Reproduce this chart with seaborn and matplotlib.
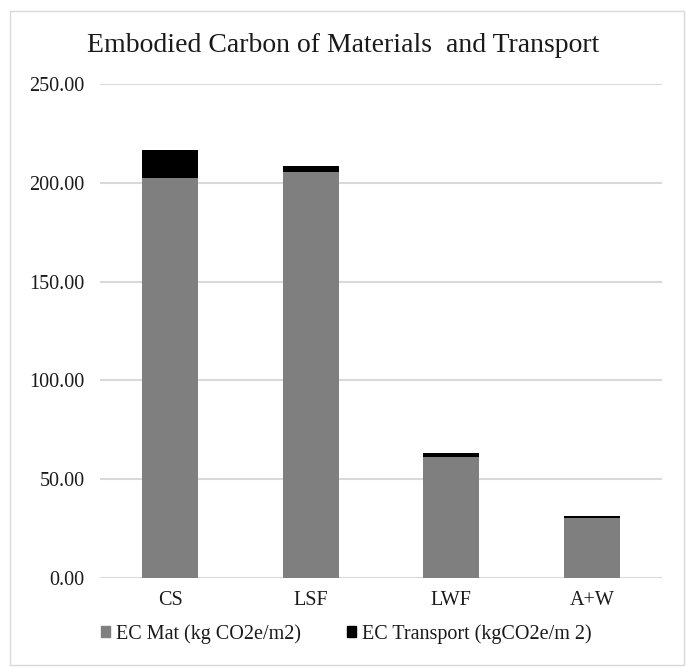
import matplotlib
matplotlib.use("Agg")
import matplotlib.pyplot as plt
import matplotlib.patches as mpatches
import seaborn as sns
import pandas as pd

# values (kg CO2e/m2)
systems = ["CS", "LSF", "LWF", "A+W"]
ec_mat = [202.5, 205.5, 61.0, 30.5]
ec_transport = [14.0, 3.0, 2.5, 0.9]

df = pd.DataFrame({"system": systems, "mat": ec_mat, "transport": ec_transport})
df["total"] = df["mat"] + df["transport"]

sns.set_theme(style="white")
plt.rcParams["font.family"] = ["Liberation Serif", "DejaVu Serif"]
txt = "#1a1a1a"

fig = plt.figure(figsize=(6.86, 6.67), dpi=100)
ax = fig.add_axes([0.1458, 0.1334, 0.8192, 0.7406])

# stacked bars: total in black underneath, material part in grey over it
sns.barplot(data=df, x="system", y="total", color="#000000", width=0.4,
            saturation=1, linewidth=0, ax=ax, zorder=3)
sns.barplot(data=df, x="system", y="mat", color="#7f7f7f", width=0.4,
            saturation=1, linewidth=0, ax=ax, zorder=3)

ax.set_ylim(0, 250)
ax.set_yticks([0, 50, 100, 150, 200, 250])
ax.set_yticklabels([f"{v:.2f}" for v in [0, 50, 100, 150, 200, 250]])
ax.yaxis.grid(True, color="#d9d9d9", linewidth=1.5, zorder=0)
ax.set_axisbelow(True)
for s in ax.spines.values():
    s.set_visible(False)
ax.tick_params(axis="both", length=0, labelsize=14.5, colors=txt)
ax.tick_params(axis="y", pad=11)
ax.tick_params(axis="x", pad=9)
ax.set_xlabel("")
ax.set_ylabel("")

fig.text(0.5, 0.932, "Embodied Carbon of Materials  and Transport",
         ha="center", va="center", fontsize=20, color=txt)

handles = [mpatches.Patch(color="#7f7f7f", label="EC Mat (kg CO2e/m2)"),
           mpatches.Patch(color="#000000", label="EC Transport (kgCO2e/m 2)")]
fig.legend(handles=handles, loc="center", bbox_to_anchor=(0.505, 0.05), ncol=2,
           frameon=False, fontsize=14.5, handlelength=0.45, handleheight=0.45,
           handletextpad=0.3, columnspacing=2.3, labelcolor=txt)

# light outer border around the chart
fig.add_artist(mpatches.Rectangle((10 / 686, 2 / 667), 674 / 686, 654 / 667,
                                  transform=fig.transFigure, fill=False,
                                  edgecolor="#d9d9d9", linewidth=1))

fig.savefig("out.png", dpi=100)
